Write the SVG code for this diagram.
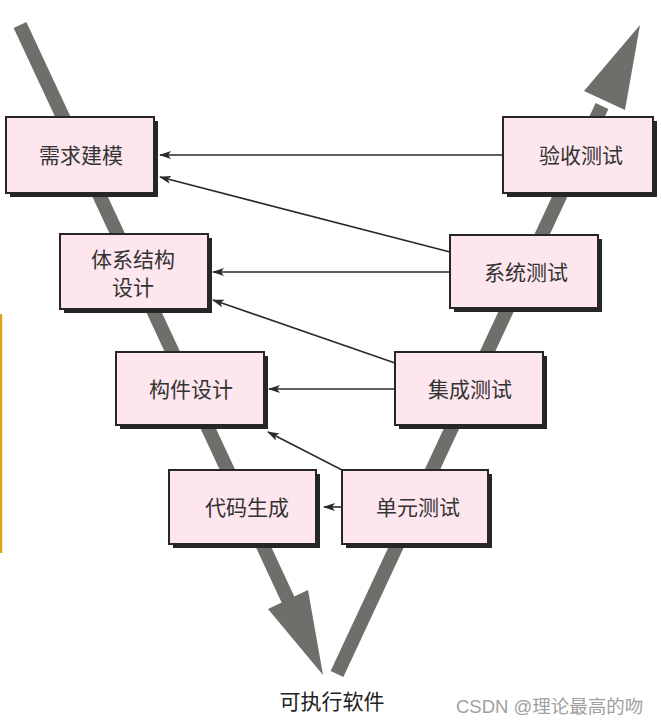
<svg xmlns="http://www.w3.org/2000/svg" width="661" height="724" viewBox="0 0 661 724">
  <defs>
    <style>
      .band{stroke:#6e6f6a;stroke-width:14;fill:none;stroke-linecap:butt}
      .head{fill:#6e6f6a}
      .shadow{fill:#262626}
      .box{fill:#fde6ee;stroke:#262626;stroke-width:2}
      .lbl{font-family:"Liberation Sans","Noto Sans CJK SC",sans-serif;font-size:21px;fill:#333;text-anchor:middle;dominant-baseline:central}
      .conn{stroke:#2a2a2a;stroke-width:1.6;fill:none}
    </style>
    <marker id="ah" viewBox="0 0 12 8" refX="11" refY="4" markerWidth="12" markerHeight="8" markerUnits="userSpaceOnUse" orient="auto">
      <path d="M0,0 L12,4 L0,8 L3,4 Z" fill="#2a2a2a"/>
    </marker>
  </defs>
  <rect width="661" height="724" fill="#ffffff"/>
  <rect x="0" y="314" width="2.2" height="239" fill="#d9a31a"/>

  <g id="v-bands">
    <line class="band" x1="20" y1="25" x2="291" y2="606"/>
    <polygon class="head" points="323,675 268,609 308,590"/>
    <line class="band" x1="337" y1="674" x2="602" y2="106"/>
    <polygon class="head" points="640,25 584,91 625,110"/>
  </g>

  <g id="connectors">
    <line class="conn" x1="503" y1="155" x2="160" y2="155" marker-end="url(#ah)"/>
    <line class="conn" x1="450" y1="252" x2="160" y2="177" marker-end="url(#ah)"/>
    <line class="conn" x1="450" y1="272" x2="213" y2="272" marker-end="url(#ah)"/>
    <line class="conn" x1="395" y1="363" x2="213" y2="300" marker-end="url(#ah)"/>
    <line class="conn" x1="395" y1="389" x2="269" y2="389" marker-end="url(#ah)"/>
    <line class="conn" x1="342" y1="470" x2="268" y2="432" marker-end="url(#ah)"/>
    <line class="conn" x1="342" y1="507" x2="324" y2="507" marker-end="url(#ah)"/>
  </g>

  <g id="n-xuqiu">
    <rect class="shadow" x="10" y="121" width="148" height="76"/>
    <rect class="box" x="6" y="117" width="148" height="76"/>
    <text class="lbl" x="81" y="155">需求建模</text>
  </g>
  <g id="n-yanshou">
    <rect class="shadow" x="507" y="121" width="150" height="76"/>
    <rect class="box" x="503" y="117" width="150" height="76"/>
    <text class="lbl" x="581" y="155">验收测试</text>
  </g>
  <g id="n-tixi">
    <rect class="shadow" x="64" y="238" width="148" height="75"/>
    <rect class="box" x="60" y="234" width="148" height="75"/>
    <text class="lbl" x="133" y="259">体系结构</text>
    <text class="lbl" x="133" y="287">设计</text>
  </g>
  <g id="n-xitong">
    <rect class="shadow" x="454" y="239" width="148" height="73"/>
    <rect class="box" x="450" y="235" width="148" height="73"/>
    <text class="lbl" x="526" y="272">系统测试</text>
  </g>
  <g id="n-goujian">
    <rect class="shadow" x="120" y="356" width="148" height="73"/>
    <rect class="box" x="116" y="352" width="148" height="73"/>
    <text class="lbl" x="191" y="389">构件设计</text>
  </g>
  <g id="n-jicheng">
    <rect class="shadow" x="399" y="356" width="148" height="73"/>
    <rect class="box" x="395" y="352" width="148" height="73"/>
    <text class="lbl" x="470" y="389">集成测试</text>
  </g>
  <g id="n-daima">
    <rect class="shadow" x="173" y="474" width="147" height="74"/>
    <rect class="box" x="169" y="470" width="147" height="74"/>
    <text class="lbl" x="247" y="507">代码生成</text>
  </g>
  <g id="n-danyuan">
    <rect class="shadow" x="346" y="474" width="146" height="74"/>
    <rect class="box" x="342" y="470" width="146" height="74"/>
    <text class="lbl" x="418" y="507">单元测试</text>
  </g>

  <g id="n-output">
    <text class="lbl" x="332" y="701" style="fill:#222">可执行软件</text>
  </g>
  <text x="456" y="706" font-family="'Liberation Sans','Noto Sans CJK SC',sans-serif" font-size="18.5" fill="#a0a0a0" dominant-baseline="central">CSDN @理论最高的吻</text>
</svg>
